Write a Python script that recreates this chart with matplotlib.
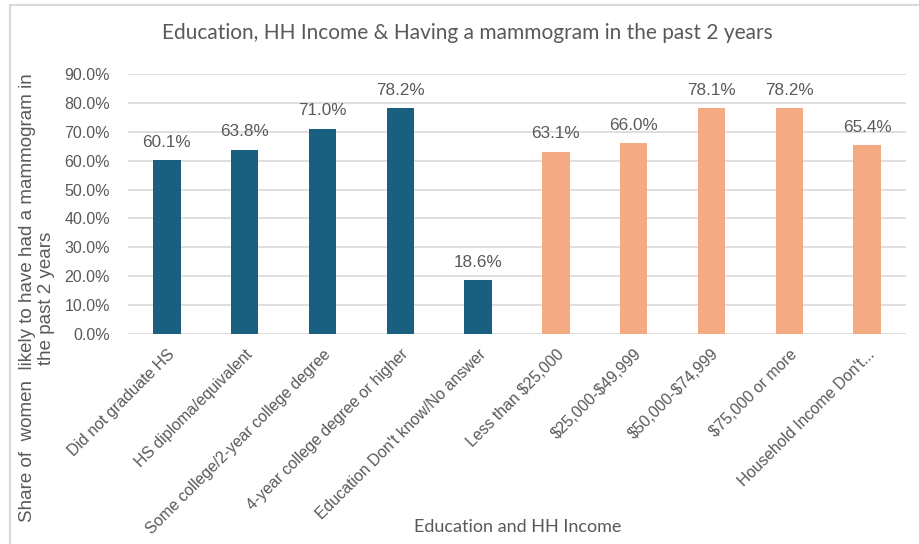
import matplotlib.pyplot as plt
from matplotlib.patches import Rectangle

plt.rcParams["text.parse_math"] = False

# Chart data
categories = [
    "Did not graduate HS",
    "HS diploma/equivalent",
    "Some college/2-year college degree",
    "4-year college degree or higher",
    "Education Don't know/No answer",
    "Less than $25,000",
    "$25,000-$49,999",
    "$50,000-$74,999",
    "$75,000 or more",
    "Household Income Don't...",
]
values = [60.1, 63.8, 71.0, 78.2, 18.6, 63.1, 66.0, 78.1, 78.2, 65.4]
groups = ["edu"] * 5 + ["inc"] * 5
group_colors = {"edu": "#195f80", "inc": "#f4aa82"}

text_gray = "#595959"
grid_gray = "#d9d9d9"

fig = plt.figure(figsize=(9.19, 5.44), dpi=100)
ax = fig.add_axes([128 / 919, 1 - 334 / 544, (906 - 128) / 919, (334 - 74) / 544])

# outer chart border
fig.patches.append(Rectangle((10 / 919, -0.01), 1.0, 1 - 5 / 544 + 0.01,
                             transform=fig.transFigure, fill=False,
                             edgecolor="#d9d9d9", linewidth=1.5))

x = range(len(categories))
colors = [group_colors[g] for g in groups]
ax.bar(x, values, width=0.35, color=colors, zorder=3)

for xi, v in zip(x, values):
    ax.text(xi, v + 3.6, f"{v:.1f}%", ha="center", va="bottom",
            fontsize=12.3, color=text_gray, family="Liberation Sans")

ax.set_xlim(-0.5, len(categories) - 0.5)
ax.set_ylim(0, 90)
ax.set_yticks(range(0, 91, 10))
ax.set_yticklabels([f"{t:.1f}%" for t in range(0, 91, 10)],
                   fontsize=11.5, color=text_gray, family="Liberation Sans")
ax.set_xticks(list(x))
ax.set_xticklabels(categories, rotation=45, ha="right", rotation_mode="anchor",
                   fontsize=11.4, color=text_gray, family="Liberation Sans")
ax.tick_params(axis="both", length=0)
ax.tick_params(axis="y", pad=13)
ax.tick_params(axis="x", pad=9)

ax.yaxis.grid(True, color=grid_gray, linewidth=1.2, zorder=0)
for s in ax.spines.values():
    s.set_visible(False)

fig.text(467 / 919, 1 - 33 / 544, "Education, HH Income & Having a mammogram in the past 2 years",
         ha="center", va="center", fontsize=15, color=text_gray, family="Lato")
fig.text(37 / 919, 1 - 298 / 544, "Share of  women  likely to have had a mammogram in\nthe past 2 years",
         rotation=90, ha="center", va="center", fontsize=13.5, color=text_gray,
         family="Liberation Sans", multialignment="center")
fig.text(518 / 919, 1 - 527 / 544, "Education and HH Income", ha="center", va="center",
         fontsize=13, color=text_gray, family="Lato")

fig.savefig("out.png", dpi=100)
